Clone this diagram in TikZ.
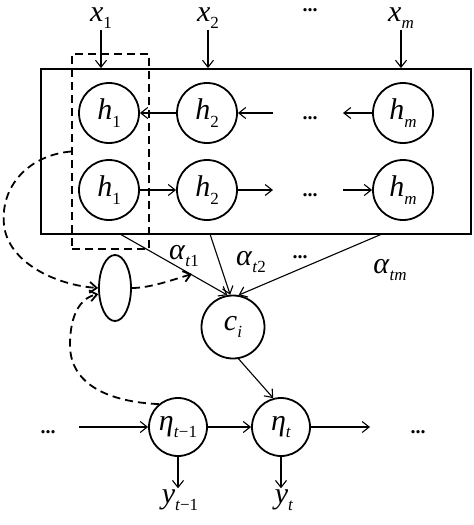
\documentclass[tikz,border=0pt]{standalone}
\usepackage{fontspec}
\setmainfont{Liberation Serif}
\usetikzlibrary{arrows.meta,shapes.geometric}
\newcommand{\var}[2]{\textit{#1}\raisebox{-0.55ex}{\fontsize{17}{17}\selectfont #2}}

\begin{document}
\begin{tikzpicture}[x=1pt,y=1pt,yscale=-1,
    cell/.style={circle,draw,line width=1.8pt,minimum size=60pt,inner sep=0pt,font=\fontsize{30}{30}\selectfont},
    lab/.style={inner sep=0.75pt,font=\fontsize{30}{30}\selectfont},
    arr/.style={-{Straight Barb[length=7pt,width=11pt]},line width=1.1pt},
    dsh/.style={dash pattern=on 8pt off 5pt,line width=1.8pt},
    dots/.style={inner sep=0pt,anchor=base,font=\fontsize{20}{20}\selectfont\bfseries}]
    \useasboundingbox (0,0) rectangle (474,525);

    %Shape: Rectangle (encoder)
    \node [draw,line width=1.8pt,minimum width=430pt,minimum height=165pt,inner sep=0pt] (enc) at (256,151.5) {};
    %Shape: Rectangle (dashed window)
    \node [draw,dsh,minimum width=77pt,minimum height=195pt,inner sep=0pt] (win) at (110.5,151.5) {};

    % backward row
    \node [cell] (hb1) at (109,113) {\var{h}{1}};
    \node [cell] (hb2) at (207,113) {\var{h}{2}};
    \node [cell] (hbm) at (403,113) {\var{h}{\textit{m}}};
    \node [dots] (db) at (310,119) {...};
    \coordinate (pb1) at (273,113);
    \coordinate (pb2) at (343,113);
    % forward row
    \node [cell] (hf1) at (109,190) {\var{h}{1}};
    \node [cell] (hf2) at (207,190) {\var{h}{2}};
    \node [cell] (hfm) at (403,190) {\var{h}{\textit{m}}};
    \node [dots] (df) at (310,196) {...};
    \coordinate (pf1) at (273,190);
    \coordinate (pf2) at (343,190);

    \draw [arr] (hb2) -- (hb1);
    \draw [arr] (pb1) -- (hb2);
    \draw [arr] (hbm) -- (pb2);
    \draw [arr] (hf1) -- (hf2);
    \draw [arr] (hf2) -- (pf1);
    \draw [arr] (pf2) -- (hfm);

    % inputs
    \node [lab] (x1) at (101,18) {\var{x}{1}};
    \node [lab] (x2) at (208,18) {\var{x}{2}};
    \node [lab] (xm) at (401,18) {\var{x}{\textit{m}}};
    \node [dots] (dx) at (310,11) {...};
    \draw [arr] (x1.south) -- (x1.south |- enc.north);
    \draw [arr] (x2.south) -- (x2.south |- enc.north);
    \draw [arr] (xm.south) -- (xm.south |- enc.north);

    % context
    \node [cell,minimum size=63pt] (ci) at (233,327) {\var{c}{\textit{i}}};
    \coordinate (a1) at (120,234);
    \coordinate (a2) at (210,234);
    \coordinate (am) at (382,234);
    \draw [arr] (a1) -- (ci.100);
    \draw [arr] (a2) -- (ci.95);
    \draw [arr] (am) -- (ci.80);
    \node [lab] (al1) at (184,256) {\textit{α}\raisebox{-0.55ex}{\fontsize{17}{17}\selectfont\textit{t}1}};
    \node [lab] (al2) at (251,262) {\textit{α}\raisebox{-0.55ex}{\fontsize{17}{17}\selectfont\textit{t}2}};
    \node [lab] (alm) at (390,270) {\textit{α}\raisebox{-0.55ex}{\fontsize{17}{17}\selectfont\textit{tm}}};
    \node [dots] (da) at (300,258) {...};

    % attention
    \node [draw,ellipse,line width=1.8pt,minimum width=32pt,minimum height=66pt,inner sep=0pt] (attn) at (115,288) {};
    \coordinate (ae) at (192,274);
    \draw [dsh,-{Straight Barb[length=7pt,width=11pt]}] (win.west) .. controls (30,155) and (0,185) .. (4,225) .. controls (8,262) and (55,285) .. (attn.west);
    \draw [dsh,-{Straight Barb[length=7pt,width=11pt]}] (attn.east) .. controls (150,288) and (172,280) .. (ae);

    % decoder
    \node [cell,minimum size=58pt] (eta1) at (178,427) {\textit{η}\raisebox{-0.55ex}{\fontsize{17}{17}\selectfont\textit{t}−1}};
    \node [cell,minimum size=58pt] (eta2) at (281,427) {\var{η}{\textit{t}}};
    \node [dots] (dl) at (48,433) {...};
    \node [dots] (dr) at (418,433) {...};
    \coordinate (le) at (79,427);
    \coordinate (re) at (370,427);
    \draw [arr] (le) -- (eta1);
    \draw [arr] (eta1) -- (eta2);
    \draw [arr] (eta2) -- (re);
    \draw [arr] (ci.280) -- (eta2.105);
    \draw [dsh,-{Straight Barb[length=7pt,width=11pt]}] (eta1.130) .. controls (110,402) and (70,385) .. (70,345) .. controls (70,315) and (80,298) .. (attn.200);

    % outputs
    \node [lab] (y1) at (180,500) {\textit{y}\raisebox{-0.55ex}{\fontsize{17}{17}\selectfont\textit{t}−1}};
    \node [lab] (y2) at (284,500) {\var{y}{\textit{t}}};
    \draw [arr] (eta1.south) -- (eta1.south |- y1.north);
    \draw [arr] (eta2.south) -- (eta2.south |- y2.north);
\end{tikzpicture}
\end{document}
